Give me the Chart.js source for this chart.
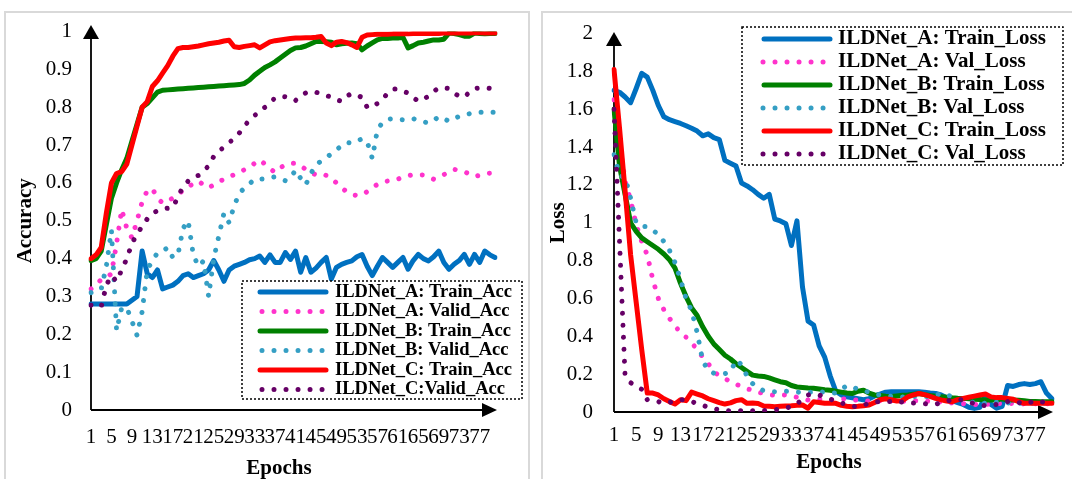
<!DOCTYPE html>
<html lang="en">
<head>
<meta charset="UTF-8">
<script src="https://cdn.jsdelivr.net/npm/chart.js@4"></script>
<style>
  html, body { margin: 0; padding: 0; width: 1072px; height: 479px; overflow: hidden; background: #fff; }
  .panel { position: absolute; top: 11px; height: 480px; border: 2px solid #d9d9d9; box-sizing: border-box; }
  canvas { position: absolute; top: 0; }
</style>
</head>
<body>
<div class="panel" style="left:4px; width:526px;"></div>
<div class="panel" style="left:541px; width:560px;"></div>
<canvas id="accChart" width="535" height="495" style="left:0"></canvas>
<canvas id="lossChart" width="545" height="495" style="left:535px"></canvas>

<script>
// epochs 1..80, only every 4th is labelled on the x axis
const epochs = Array.from({ length: 80 }, (_, i) => i + 1);
const xTickLabels = ['1', '5', '9', '13', '17', '21', '25', '29', '33', '37', '41', '45', '49', '53', '57', '61', '65', '69', '73', '77'];

// Accuracy
const trainAccA = [0.28,0.28,0.28,0.28,0.28,0.28,0.28,0.28,0.29,0.30,
  0.42,0.36,0.35,0.37,0.32,0.325,0.33,0.34,0.355,0.36,
  0.35,0.355,0.36,0.37,0.395,0.37,0.34,0.37,0.38,0.385,
  0.39,0.397,0.40,0.407,0.39,0.41,0.39,0.39,0.416,0.398,
  0.42,0.364,0.403,0.364,0.375,0.39,0.403,0.346,0.377,0.385,
  0.39,0.394,0.405,0.411,0.38,0.355,0.38,0.403,0.39,0.377,
  0.39,0.403,0.372,0.395,0.411,0.40,0.394,0.405,0.42,0.39,
  0.372,0.385,0.395,0.411,0.385,0.411,0.39,0.42,0.41,0.403];
const validAccA = [0.32,0.33,0.345,0.35,0.36,0.44,0.53,0.48,0.455,0.50,
  0.55,0.58,0.585,0.56,0.547,0.552,0.56,0.57,0.58,0.59,
  0.598,0.605,0.595,0.587,0.595,0.603,0.61,0.616,0.622,0.628,
  0.635,0.642,0.652,0.661,0.65,0.638,0.628,0.64,0.648,0.652,
  0.652,0.645,0.636,0.626,0.622,0.625,0.62,0.612,0.60,0.587,
  0.577,0.569,0.567,0.568,0.577,0.588,0.596,0.603,0.605,0.606,
  0.61,0.616,0.619,0.622,0.622,0.621,0.615,0.61,0.615,0.622,
  0.629,0.636,0.633,0.63,0.623,0.617,0.62,0.625,0.626,0.626];
const trainAccB = [0.395,0.40,0.42,0.49,0.56,0.60,0.635,0.665,0.71,0.755,
  0.80,0.81,0.825,0.84,0.845,0.846,0.847,0.848,0.849,0.85,
  0.851,0.852,0.853,0.854,0.855,0.856,0.857,0.858,0.859,0.86,
  0.863,0.872,0.885,0.895,0.905,0.912,0.92,0.93,0.94,0.95,
  0.957,0.958,0.962,0.968,0.974,0.974,0.973,0.972,0.965,0.968,
  0.969,0.97,0.968,0.952,0.962,0.97,0.978,0.982,0.982,0.983,
  0.983,0.985,0.957,0.963,0.97,0.972,0.975,0.978,0.978,0.98,
  0.996,0.995,0.992,0.988,0.988,0.996,0.995,0.994,0.995,0.995];
const validAccB = [0.31,0.315,0.32,0.38,0.475,0.21,0.27,0.27,0.235,0.197,
  0.26,0.37,0.395,0.415,0.42,0.429,0.403,0.41,0.48,0.50,
  0.41,0.38,0.394,0.30,0.40,0.46,0.52,0.495,0.54,0.572,
  0.587,0.598,0.61,0.61,0.611,0.614,0.616,0.61,0.606,0.614,
  0.634,0.612,0.595,0.625,0.648,0.658,0.667,0.677,0.688,0.698,
  0.707,0.705,0.71,0.717,0.709,0.665,0.74,0.76,0.768,0.77,
  0.768,0.767,0.769,0.77,0.765,0.762,0.758,0.765,0.775,0.77,
  0.763,0.77,0.776,0.779,0.783,0.785,0.787,0.787,0.787,0.787];
const trainAccC = [0.40,0.41,0.43,0.52,0.60,0.625,0.63,0.65,0.70,0.75,
  0.80,0.815,0.855,0.87,0.89,0.91,0.935,0.955,0.958,0.958,
  0.96,0.962,0.965,0.968,0.97,0.972,0.975,0.977,0.96,0.958,
  0.961,0.963,0.965,0.957,0.965,0.973,0.976,0.978,0.98,0.982,
  0.983,0.983,0.984,0.984,0.985,0.987,0.97,0.963,0.972,0.974,
  0.971,0.965,0.958,0.985,0.991,0.992,0.993,0.993,0.993,0.994,
  0.994,0.994,0.994,0.995,0.995,0.995,0.995,0.995,0.995,0.996,
  0.996,0.996,0.996,0.996,0.996,0.997,0.997,0.996,0.996,0.996];
const validAccC = [0.277,0.275,0.273,0.33,0.355,0.34,0.37,0.40,0.44,0.465,
  0.485,0.505,0.519,0.527,0.532,0.533,0.535,0.563,0.59,0.605,
  0.615,0.62,0.632,0.645,0.67,0.683,0.695,0.706,0.718,0.732,
  0.75,0.767,0.778,0.79,0.80,0.812,0.825,0.829,0.828,0.82,
  0.818,0.83,0.838,0.842,0.84,0.835,0.831,0.827,0.82,0.816,
  0.83,0.836,0.832,0.826,0.80,0.80,0.81,0.82,0.838,0.848,
  0.848,0.842,0.838,0.826,0.816,0.822,0.829,0.842,0.851,0.851,
  0.85,0.838,0.829,0.827,0.84,0.85,0.851,0.851,0.85,0.85];

// Loss
const trainLossA = [1.70,1.69,1.665,1.635,1.71,1.79,1.77,1.70,1.62,1.56,
  1.545,1.535,1.525,1.513,1.50,1.485,1.46,1.47,1.45,1.44,
  1.33,1.315,1.30,1.21,1.195,1.175,1.15,1.13,1.15,1.02,
  1.01,0.995,0.88,1.01,0.66,0.48,0.46,0.35,0.29,0.19,
  0.11,0.09,0.08,0.075,0.07,0.065,0.07,0.085,0.095,0.105,
  0.107,0.107,0.107,0.107,0.107,0.107,0.105,0.10,0.098,0.09,
  0.075,0.06,0.05,0.04,0.025,0.019,0.025,0.085,0.04,0.02,
  0.03,0.14,0.135,0.145,0.15,0.145,0.15,0.16,0.10,0.07];
const valLossA = [1.65,1.42,1.22,1.12,0.99,0.90,0.83,0.70,0.60,0.54,
  0.495,0.455,0.42,0.395,0.365,0.33,0.29,0.255,0.215,0.19,
  0.177,0.16,0.147,0.135,0.123,0.115,0.105,0.098,0.092,0.089,
  0.091,0.09,0.085,0.078,0.07,0.063,0.065,0.067,0.065,0.063,
  0.066,0.07,0.068,0.065,0.062,0.06,0.058,0.058,0.06,0.062,
  0.06,0.058,0.057,0.058,0.06,0.06,0.058,0.055,0.053,0.052,
  0.05,0.048,0.046,0.044,0.042,0.04,0.037,0.04,0.042,0.044,
  0.046,0.046,0.045,0.044,0.043,0.043,0.043,0.043,0.043,0.043];
const trainLossB = [1.60,1.30,1.15,1.00,0.955,0.92,0.90,0.88,0.86,0.835,
  0.805,0.76,0.68,0.61,0.55,0.51,0.45,0.40,0.36,0.33,
  0.30,0.28,0.255,0.235,0.215,0.195,0.19,0.188,0.18,0.17,
  0.16,0.155,0.14,0.132,0.13,0.127,0.125,0.122,0.118,0.115,
  0.11,0.105,0.10,0.098,0.11,0.115,0.10,0.09,0.087,0.083,
  0.082,0.085,0.088,0.09,0.094,0.098,0.092,0.087,0.083,0.081,
  0.078,0.075,0.073,0.072,0.07,0.068,0.066,0.064,0.063,0.063,
  0.07,0.063,0.063,0.062,0.06,0.056,0.055,0.054,0.054,0.054];
const valLossB = [1.36,1.25,1.24,1.13,1.00,0.98,0.98,0.96,0.94,0.90,
  0.855,0.79,0.70,0.60,0.535,0.42,0.27,0.22,0.205,0.203,
  0.203,0.21,0.275,0.25,0.19,0.15,0.125,0.113,0.108,0.107,
  0.108,0.11,0.108,0.105,0.104,0.104,0.105,0.107,0.105,0.102,
  0.10,0.12,0.14,0.133,0.12,0.112,0.105,0.095,0.09,0.087,
  0.083,0.081,0.079,0.08,0.082,0.083,0.082,0.08,0.085,0.10,
  0.091,0.08,0.07,0.062,0.055,0.05,0.045,0.047,0.05,0.052,
  0.05,0.048,0.047,0.046,0.046,0.046,0.047,0.048,0.048,0.048];
const trainLossC = [1.81,1.50,1.17,0.83,0.58,0.33,0.10,0.10,0.09,0.07,
  0.055,0.042,0.065,0.06,0.105,0.095,0.085,0.07,0.06,0.05,
  0.042,0.048,0.06,0.065,0.046,0.048,0.045,0.032,0.03,0.028,
  0.03,0.032,0.033,0.035,0.037,0.02,0.054,0.05,0.046,0.046,
  0.046,0.035,0.03,0.028,0.03,0.033,0.037,0.05,0.065,0.07,
  0.065,0.058,0.06,0.08,0.09,0.098,0.092,0.083,0.072,0.064,
  0.058,0.054,0.065,0.072,0.078,0.084,0.09,0.095,0.08,0.076,
  0.076,0.072,0.067,0.055,0.046,0.046,0.046,0.046,0.046,0.046];
const valLossC = [1.60,0.90,0.19,0.155,0.135,0.12,0.065,0.06,0.055,0.045,
  0.05,0.062,0.065,0.065,0.055,0.045,0.035,0.025,0.018,0.012,
  0.008,0.006,0.006,0.006,0.006,0.006,0.007,0.008,0.01,0.012,
  0.015,0.02,0.03,0.042,0.07,0.09,0.095,0.09,0.078,0.068,
  0.058,0.048,0.038,0.03,0.028,0.035,0.048,0.054,0.054,0.054,
  0.056,0.058,0.052,0.048,0.047,0.046,0.044,0.04,0.042,0.048,
  0.056,0.066,0.066,0.063,0.052,0.044,0.038,0.033,0.034,0.04,
  0.046,0.055,0.058,0.05,0.042,0.05,0.06,0.055,0.049,0.045];

const seriesColors = ['#0070C0', '#FF33CC', '#008000', '#359FC4', '#FF0000', '#660066'];
const serif = "'Liberation Serif', 'Times New Roman', serif";

Chart.defaults.font.family = serif;
Chart.defaults.color = '#000';

function makeDatasets(labels, arrays) {
  return arrays.map((data, i) => {
    const dotted = i % 2 === 1;
    return {
      label: labels[i],
      data: data,
      borderColor: seriesColors[i],
      backgroundColor: seriesColors[i],
      borderWidth: 5,
      borderDash: dotted ? [0.01, 12] : [],
      borderCapStyle: 'round',
      borderJoinStyle: 'round',
      pointRadius: 0,
      tension: 0,
      order: 5 - i   // later series on top, like the spreadsheet
    };
  });
}

// axis lines with arrow heads
const axisArrows = {
  id: 'axisArrows',
  beforeDatasetsDraw(chart, args, o) {
    const { ctx, chartArea: a } = chart;
    ctx.save();
    ctx.strokeStyle = '#000';
    ctx.fillStyle = '#000';
    ctx.lineWidth = 1.8;
    ctx.beginPath();
    ctx.moveTo(a.left, a.bottom);
    ctx.lineTo(a.left, o.yTip + 10);
    ctx.moveTo(a.left, a.bottom);
    ctx.lineTo(o.xTip - 10, a.bottom);
    ctx.stroke();
    ctx.beginPath();
    ctx.moveTo(a.left, o.yTip);
    ctx.lineTo(a.left - 8, o.yTip + 14);
    ctx.lineTo(a.left + 8, o.yTip + 14);
    ctx.closePath();
    ctx.fill();
    ctx.beginPath();
    ctx.moveTo(o.xTip, a.bottom);
    ctx.lineTo(o.xTip - 15, a.bottom - 7);
    ctx.lineTo(o.xTip - 15, a.bottom + 7);
    ctx.closePath();
    ctx.fill();
    ctx.restore();
  }
};

// legend inside a dotted box
const boxLegend = {
  id: 'boxLegend',
  afterDatasetsDraw(chart, args, o) {
    const ctx = chart.ctx;
    ctx.save();
    ctx.fillStyle = '#fff';
    ctx.fillRect(o.x, o.y, o.w, o.h);
    ctx.setLineDash([2, 2]);
    ctx.lineWidth = 1.5;
    ctx.strokeStyle = '#000';
    ctx.strokeRect(o.x, o.y, o.w, o.h);
    ctx.font = 'bold ' + o.size + 'px ' + serif;
    ctx.textBaseline = 'middle';
    chart.data.datasets.forEach((ds, i) => {
      const y = o.row0 + i * o.step;
      const dotted = ds.borderDash.length > 0;
      ctx.strokeStyle = ds.borderColor;
      ctx.lineWidth = ds.borderWidth;
      ctx.lineCap = 'round';
      ctx.setLineDash(ds.borderDash);
      ctx.beginPath();
      ctx.moveTo(dotted ? o.dotX0 : o.lineX0, y);
      ctx.lineTo(dotted ? o.dotX1 : o.lineX1, y);
      ctx.stroke();
      ctx.fillStyle = '#000';
      ctx.fillText(ds.label, o.textX, y);
    });
    ctx.restore();
  }
};

// x axis title, placed where the original has it
const xTitle = {
  id: 'xTitle',
  afterDraw(chart, args, o) {
    const ctx = chart.ctx;
    ctx.save();
    ctx.font = 'bold 21px ' + serif;
    ctx.fillStyle = '#000';
    ctx.textAlign = 'center';
    ctx.textBaseline = 'middle';
    ctx.fillText(o.text, o.x, o.y);
    ctx.restore();
  }
};

function makeChart(id, opt) {
  return new Chart(document.getElementById(id), {
    type: 'line',
    data: { labels: epochs, datasets: makeDatasets(opt.labels, opt.data) },
    options: {
      responsive: false,
      devicePixelRatio: 1,
      animation: false,
      layout: { padding: opt.padding },
      plugins: {
        legend: { display: false },
        tooltip: { enabled: false },
        axisArrows: opt.arrows,
        boxLegend: opt.legend,
        xTitle: opt.xTitle
      },
      scales: {
        x: {
          type: 'category',
          offset: false,
          grid: { display: false, drawTicks: false },
          border: { display: false },
          ticks: {
            autoSkip: false, maxRotation: 0, minRotation: 0,
            padding: opt.xPad, font: { size: 21 }, color: '#000',
            callback(v) {
              const l = String(this.getLabelForValue(v));
              return xTickLabels.includes(l) ? l : '';
            }
          },
          afterFit(s) { s.height = opt.xHeight; }
        },
        y: {
          min: 0, max: opt.yMax,
          grid: { display: false, drawTicks: false },
          border: { display: false },
          ticks: {
            stepSize: opt.yStep, padding: opt.yPad, font: { size: 21 }, color: '#000',
            callback: v => String(Number(v.toFixed(1)))
          },
          title: {
            display: true, text: opt.yTitle, color: '#000',
            font: { size: 21, weight: 'bold' },
            padding: { top: opt.yTitlePad, bottom: 0 }
          },
          afterFit(s) { s.width = opt.yWidth; }
        }
      }
    },
    plugins: [axisArrows, boxLegend, xTitle]
  });
}

makeChart('accChart', {
  labels: ['ILDNet_A: Train_Acc', 'ILDNet_A: Valid_Acc', 'ILDNet_B: Train_Acc',
           'ILDNet_B: Valid_Acc', 'ILDNet_C: Train_Acc', 'ILDNet_C:Valid_Acc'],
  data: [trainAccA, validAccA, trainAccB, validAccB, trainAccC, validAccC],
  padding: { left: 0, top: 25, right: 40, bottom: 0 },
  xHeight: 85, xPad: 15, yWidth: 91, yMax: 1, yStep: 0.1, yPad: 19,
  yTitle: 'Accuracy', yTitlePad: 13.4,
  arrows: { yTip: 25, xTip: 497 },
  legend: { x: 242, y: 281, w: 280, h: 118, row0: 292, step: 19.5,
            lineX0: 260, lineX1: 326, dotX0: 262, dotX1: 322.5, textX: 335, size: 18.5 },
  xTitle: { text: 'Epochs', x: 279, y: 469 }
});

makeChart('lossChart', {
  labels: ['ILDNet_A: Train_Loss', 'ILDNet_A: Val_Loss', 'ILDNet_B: Train_Loss',
           'ILDNet_B: Val_Loss', 'ILDNet_C: Train_Loss', 'ILDNet_C: Val_Loss'],
  data: [trainLossA, valLossA, trainLossB, valLossB, trainLossC, valLossC],
  padding: { left: 0, top: 32, right: 28, bottom: 0 },
  xHeight: 83, xPad: 11, yWidth: 79, yMax: 2, yStep: 0.2, yPad: 21,
  yTitle: 'Loss', yTitlePad: 11.4,
  arrows: { yTip: 32, xTip: 518 },
  legend: { x: 207, y: 27, w: 321, h: 138, row0: 39, step: 23,
            lineX0: 229, lineX1: 295, dotX0: 228, dotX1: 288.5, textX: 303, size: 21 },
  xTitle: { text: 'Epochs', x: 294, y: 463 }
});
</script>
</body>
</html>
